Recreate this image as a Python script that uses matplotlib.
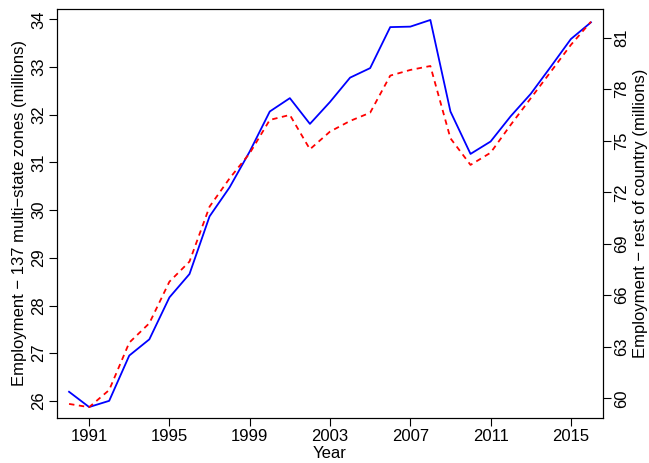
import matplotlib
matplotlib.use("Agg")
import matplotlib.pyplot as plt

plt.rcParams['font.family'] = ['Liberation Sans', 'DejaVu Sans']

years = list(range(1990, 2017))
zones = [26.19, 25.87, 26.00, 26.95, 27.29, 28.17, 28.66, 29.87, 30.48, 31.23,
         32.07, 32.35, 31.81, 32.27, 32.78, 32.98, 33.84, 33.85, 33.99, 32.07,
         31.18, 31.44, 31.97, 32.44, 33.01, 33.59, 33.94]
rest = [59.67, 59.48, 60.48, 63.24, 64.37, 66.79, 67.96, 71.16, 72.81, 74.27,
        76.21, 76.50, 74.50, 75.53, 76.15, 76.63, 78.79, 79.12, 79.35, 75.14,
        73.59, 74.30, 75.92, 77.47, 79.02, 80.58, 81.93]

xticks = [1991, 1995, 1999, 2003, 2007, 2011, 2015]
left_ticks = [26, 27, 28, 29, 30, 31, 32, 33, 34]
right_ticks = [60, 63, 66, 69, 72, 75, 78, 81]

fig = plt.figure(figsize=(6.49, 4.63), dpi=100)
ax = fig.add_axes([57 / 649, 1 - 418 / 463, 546 / 649, 409 / 463])
ax.plot(years, zones, color='#0000ff', lw=1.3)
ax.set_xlim(1989.4, 2016.6)
ax.set_ylim(25.64, 34.22)
ax.set_xticks(xticks)
ax.set_yticks(left_ticks)
ax.set_yticklabels([str(t) for t in left_ticks], rotation=90, va='center')
ax.tick_params(direction='out', length=6, width=0.8, labelsize=12, pad=2)
ax.set_xlabel('Year', fontsize=12, labelpad=1)
ax.set_ylabel('Employment \u2212 137 multi\u2212state zones (millions)', fontsize=12, labelpad=3)

ax2 = ax.twinx()
ax2.plot(years, rest, color='#ff0000', lw=1.3, ls=(0, (3, 2.5)))
ax2.set_ylim(58.85, 82.67)
ax2.set_yticks(right_ticks)
ax2.set_yticklabels([str(t) for t in right_ticks], rotation=90, va='center')
ax2.tick_params(direction='out', length=6, width=0.8, labelsize=12, pad=2)
ax2.set_ylabel('Employment \u2212 rest of country (millions)', fontsize=12,
               rotation=90, labelpad=3)

for a in (ax, ax2):
    for s in a.spines.values():
        s.set_linewidth(0.8)

fig.savefig('out.png', dpi=100)
